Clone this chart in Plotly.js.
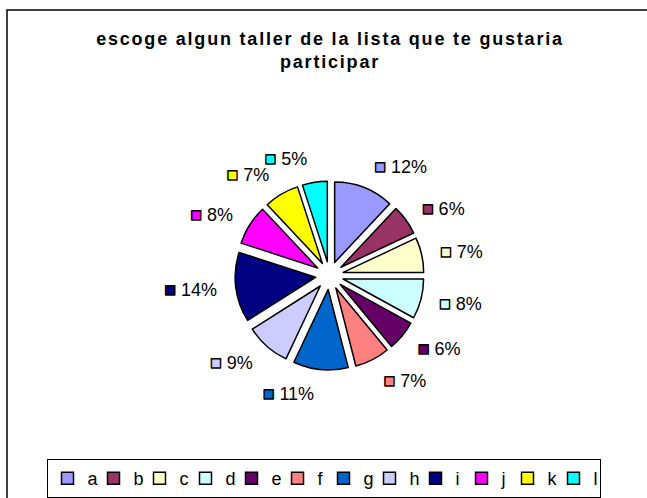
<!DOCTYPE html>
<html>
<head>
<meta charset="utf-8">
<script src="https://cdn.plot.ly/plotly-3.0.1.min.js"></script>
<style>html,body{margin:0;padding:0;background:#fff;}#chart{width:647px;height:498px;}</style>
</head>
<body>
<div id="chart"></div>
<script>
var categories = ['a','b','c','d','e','f','g','h','i','j','k','l'];
var values = [12, 6, 7, 8, 6, 7, 11, 9, 14, 8, 7, 5];
var colors = ['#9999FF','#993366','#FFFFCC','#CCFFFF','#660066','#FF8080','#0066CC','#CCCCFF','#000080','#FF00FF','#FFFF00','#00FFFF'];
var titleLines = ['escoge algun taller de la lista que te gustaria', 'participar'];

var FONT = 'Liberation Sans, Arial, sans-serif';

var labelTemplates = colors.map(function(c){
  return '<span style="color:' + c + ';stroke:#000;stroke-width:1.4px;font-size:19px">■</span> %{percent}';
});

var cx = 329.5, cy = 222.5; // pie centre in px from left / bottom

// the exploded pie
var pieTrace = {
  type: 'pie',
  labels: categories,
  values: values,
  sort: false,
  direction: 'clockwise',
  rotation: 0,
  pull: 0.174,
  marker: {colors: colors, line: {color: '#000', width: 1.5}},
  textinfo: 'none',
  hoverinfo: 'label+percent',
  domain: {x: [(cx-94.5)/647, (cx+94.5)/647], y: [(cy-94.5)/498, (cy+94.5)/498]},
  automargin: false
};

// same data, transparent, only carrying the data labels a bit further out.
// Split in two (alternate slices) so neighbouring labels are not shifted by Plotly.
function labelTrace(parity) {
  return {
    type: 'pie',
    labels: categories,
    values: values,
    sort: false,
    direction: 'clockwise',
    rotation: 0,
    showlegend: false,
    marker: {colors: categories.map(function(){return 'rgba(0,0,0,0)';}), line: {width: 0}},
    textposition: categories.map(function(_, i){ return (i % 2 === parity) ? 'outside' : 'none'; }),
    texttemplate: labelTemplates,
    textfont: {family: FONT, size: 18, color: '#000'},
    hoverinfo: 'skip',
    domain: {x: [(cx-108)/647, (cx+108)/647], y: [(cy-108)/498, (cy+108)/498]},
    automargin: false
  };
}

var layout = {
  width: 647, height: 498,
  margin: {l: 0, r: 0, t: 0, b: 0},
  paper_bgcolor: '#fff',
  title: {
    text: titleLines.map(function(t){ return '<span style="letter-spacing:1.8px">' + t + '</span>'; }).join('<br>'),
    font: {family: FONT, size: 18, color: '#000', weight: 'bold'},
    x: 330/647, xanchor: 'center', xref: 'paper',
    y: 1 - 45/498, yanchor: 'top', yref: 'container'
  },
  showlegend: true,
  legend: {
    orientation: 'h',
    x: 0.5, xanchor: 'center',
    y: 39/498, yanchor: 'top',
    font: {family: FONT, size: 18, color: '#000'},
    bgcolor: '#fff', bordercolor: '#000', borderwidth: 1,
    itemwidth: 30, entrywidth: 1, entrywidthmode: 'pixels'
  },
  shapes: [{
    type: 'rect', xref: 'paper', yref: 'paper',
    x0: 7/647, x1: 1.02, y0: -0.02, y1: 1 - 10/498,
    line: {color: '#000', width: 1.5}, fillcolor: 'rgba(0,0,0,0)', layer: 'below'
  }]
};

Plotly.newPlot('chart', [labelTrace(0), labelTrace(1), pieTrace], layout, {displayModeBar: false, staticPlot: true});
</script>
</body>
</html>
